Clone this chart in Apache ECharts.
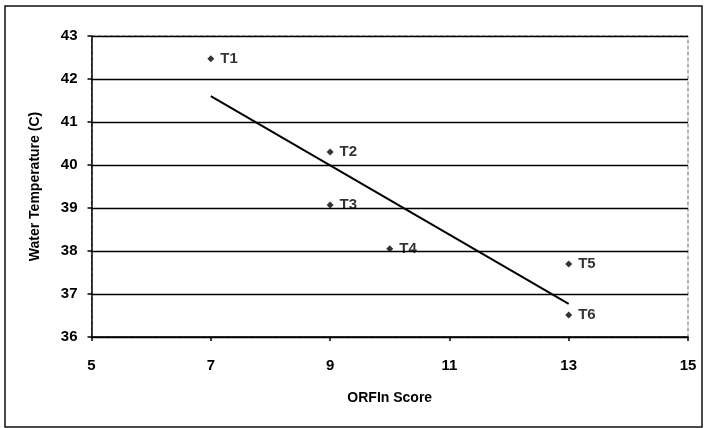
<!DOCTYPE html>
<html>
<head>
<meta charset="utf-8">
<script src="https://cdn.jsdelivr.net/npm/echarts@6/dist/echarts.min.js"></script>
<style>
  html, body { margin: 0; padding: 0; background: #fff; }
  #chart-main { width: 707px; height: 428px; }
</style>
</head>
<body>
<div id="chart-main"></div>
<script>
// data
const pointNames = ['T1', 'T2', 'T3', 'T4', 'T5', 'T6'];
const orfinScore = [7, 9, 9, 10, 13, 13];
const waterTemp = [42.47, 40.3, 39.07, 38.05, 37.7, 36.51];
// trend line end points
const trendX = [7, 13];
const trendY = [41.6, 36.77];

const font = 'Liberation Sans, Arial, Helvetica, sans-serif';

let myChart = echarts.init(document.getElementById('chart-main'));
let option = {
  backgroundColor: '#fff',
  animation: false,
  graphic: [
    {
      type: 'rect',
      shape: { x: 5, y: 6, width: 697, height: 421 },
      style: { fill: 'none', stroke: '#111', lineWidth: 1.5 },
      z: 0
    }
  ],
  grid: {
    left: 91.5,
    right: 19,
    top: 36,
    bottom: 91,
    show: true,
    borderColor: '#666',
    borderWidth: 1,
    borderType: 'dashed'
  },
  xAxis: {
    type: 'value',
    min: 5,
    max: 15,
    interval: 2,
    name: 'ORFIn Score',
    nameLocation: 'middle',
    nameGap: 54,
    nameTextStyle: { fontFamily: font, fontWeight: 'bold', fontSize: 14, color: '#000' },
    axisLine: { show: true, onZero: false, lineStyle: { color: '#000', width: 1.5 } },
    axisTick: { show: true, length: 4, lineStyle: { color: '#000', width: 1.5 } },
    axisLabel: { margin: 21, fontFamily: font, fontWeight: 'bold', fontSize: 15, color: '#000' },
    splitLine: { show: false }
  },
  yAxis: {
    type: 'value',
    min: 36,
    max: 43,
    interval: 1,
    name: 'Water Temperature (C)',
    nameLocation: 'middle',
    nameGap: 49,
    nameTextStyle: { fontFamily: font, fontWeight: 'bold', fontSize: 14, color: '#000' },
    axisLine: { show: true, onZero: false, lineStyle: { color: '#000', width: 1.5 } },
    axisTick: { show: true, length: 4, lineStyle: { color: '#000', width: 1.5 } },
    axisLabel: { margin: 14, fontFamily: font, fontWeight: 'bold', fontSize: 15, color: '#000' },
    splitLine: { show: true, lineStyle: { color: '#000', width: 1.3 } }
  },
  series: [
    {
      type: 'scatter',
      symbol: 'diamond',
      symbolSize: 7,
      itemStyle: { color: '#000' },
      data: orfinScore.map((x, i) => ({ value: [x, waterTemp[i]], name: pointNames[i] })),
      label: {
        show: true,
        position: 'right',
        distance: 6,
        formatter: '{b}',
        fontFamily: font,
        fontWeight: 'bold',
        fontSize: 15,
        color: '#000'
      },
      z: 3
    },
    {
      type: 'line',
      symbol: 'none',
      lineStyle: { color: '#000', width: 2 },
      data: trendX.map((x, i) => [x, trendY[i]]),
      z: 2
    }
  ]
};
myChart.setOption(option);
</script>
</body>
</html>
